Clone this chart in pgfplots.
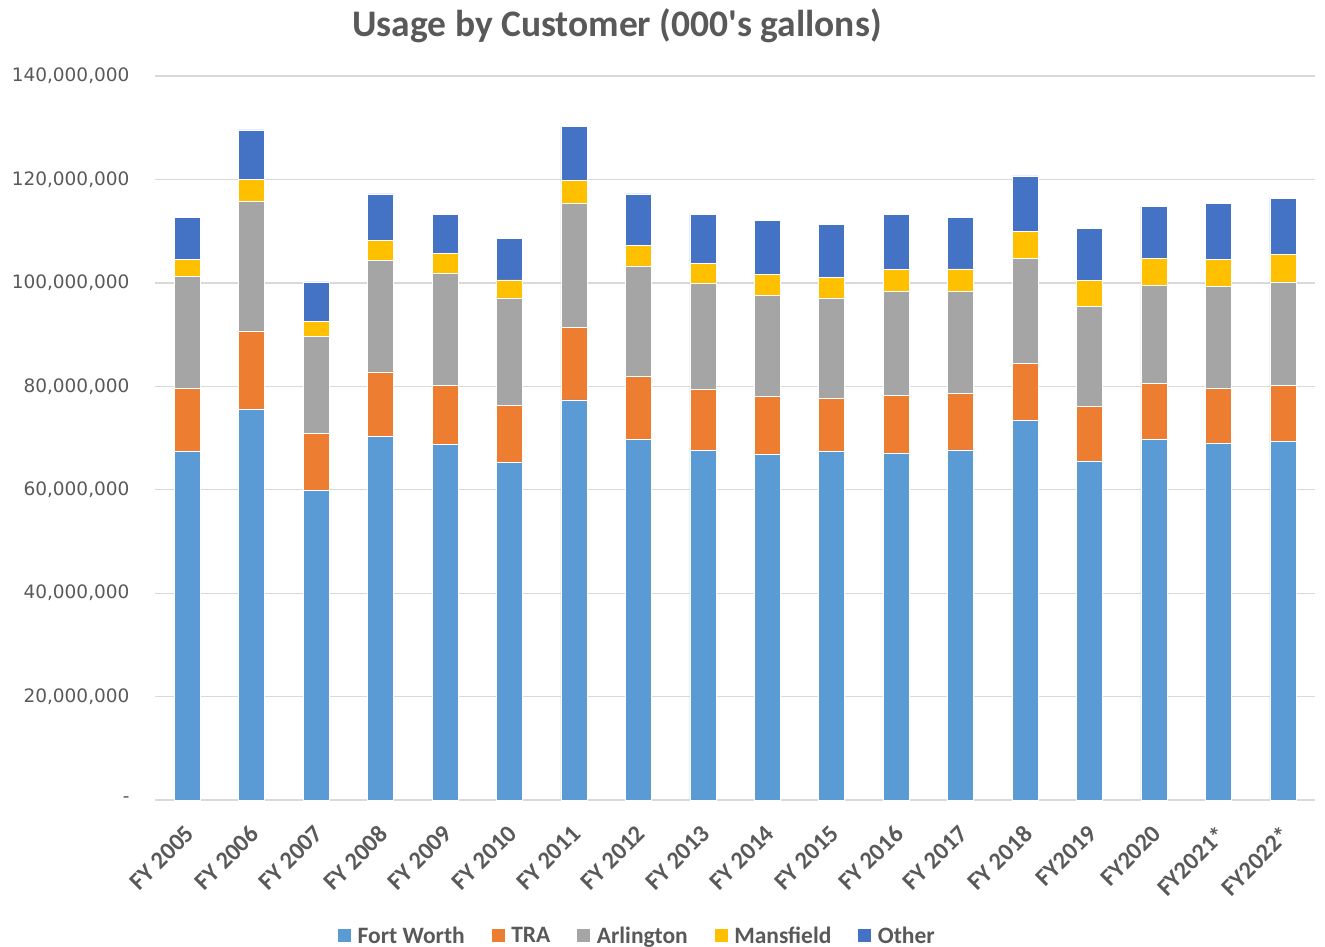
\documentclass[border=0pt]{standalone}
\usepackage{fontspec}
\setmainfont{Carlito}
\newfontfamily\tickfont{DejaVu Sans}
\usepackage{pgfplots}
\usepackage{pgfplotstable}
\pgfplotsset{compat=1.18}

\definecolor{cFW}{HTML}{5B9BD5}
\definecolor{cTRA}{HTML}{ED7D31}
\definecolor{cARL}{HTML}{A5A5A5}
\definecolor{cMAN}{HTML}{FFC000}
\definecolor{cOTH}{HTML}{4472C4}
\definecolor{txt}{HTML}{595959}
\definecolor{gridc}{HTML}{D9D9D9}

% usage by customer, thousands of gallons
\pgfplotstableread{
x fw       tra      arl      mans    oth
0  67430000 12180000 21580000 3370000 8120000
1  75600000 15100000 25000000 4300000 9600000
2  59900000 11000000 18700000 3000000 7600000
3  70300000 12500000 21600000 3800000 9000000
4  68800000 11400000 21600000 3900000 7600000
5  65300000 11000000 20800000 3500000 8000000
6  77350000 14050000 23900000 4500000 10400000
7  69750000 12150000 21400000 4000000 9900000
8  67600000 11800000 20500000 3900000 9500000
9  66900000 11200000 19550000 3950000 10500000
10 67350000 10350000 19400000 4000000 10150000
11 67100000 11200000 20100000 4200000 10600000
12 67700000 10900000 19700000 4400000 9950000
13 73400000 11000000 20400000 5200000 10700000
14 65600000 10450000 19450000 4950000 10050000
15 69750000 10850000 18900000 5200000 10100000
16 69000000 10600000 19700000 5200000 10900000
17 69400000 10800000 20000000 5250000 10900000
}\usage

\begin{document}
\begin{tikzpicture}
\path[use as bounding box] (0pt,0pt) rectangle (1325pt,-947pt);
\node[font=\bfseries\fontsize{37.5}{40}\selectfont, text=txt] at (617pt,-26pt) {Usage by Customer (000\textquotesingle s gallons)};
\begin{axis}[
  at={(155pt,-800pt)}, anchor=south west,
  scale only axis, width=1160pt, height=724pt,
  ybar stacked, bar width=26pt,
  xmin=-0.5, xmax=17.5, ymin=0, ymax=140000000,
  scaled y ticks=false,
  xtick=data,
  xticklabels={FY 2005,FY 2006,FY 2007,FY 2008,FY 2009,FY 2010,FY 2011,FY 2012,FY 2013,FY 2014,FY 2015,FY 2016,FY 2017,FY 2018,FY2019,FY2020,FY2021*,FY2022*},
  xticklabel style={xshift=-3pt, yshift=-19pt, rotate=45, anchor=north east,
    font=\bfseries\fontsize{24.5}{25}\selectfont, text=txt},
  ytick={0,20000000,40000000,60000000,80000000,100000000,120000000,140000000},
  yticklabels={{-},{20,000,000},{40,000,000},{60,000,000},{80,000,000},{100,000,000},{120,000,000},{140,000,000}},
  yticklabel style={font=\tickfont\fontsize{18.5}{20}\selectfont, text=txt, xshift=-22pt},
  major tick length=0pt,
  axis line style={draw=none},
  ymajorgrids, grid style={draw=gridc, line width=1.3pt},
  legend columns=5,
  legend style={at={(0.4155,-0.188)}, anchor=center, draw=none, fill=none,
    font=\bfseries\fontsize{23.5}{24}\selectfont, text=txt,
    /tikz/every odd column/.append style={column sep=4pt},
    /tikz/every even column/.append style={column sep=24pt}},
  legend image code/.code={\fill[#1] (-4pt,-6pt) rectangle (10pt,8pt);},
  every axis plot/.append style={draw=white, line width=0.5pt},
]
\addplot[fill=cFW] table[x=x, y=fw] {\usage};
\addplot[fill=cTRA] table[x=x, y=tra] {\usage};
\addplot[fill=cARL] table[x=x, y=arl] {\usage};
\addplot[fill=cMAN] table[x=x, y=mans] {\usage};
\addplot[fill=cOTH] table[x=x, y=oth] {\usage};
\legend{Fort Worth, TRA, Arlington, Mansfield, Other}
\end{axis}
\end{tikzpicture}
\end{document}
